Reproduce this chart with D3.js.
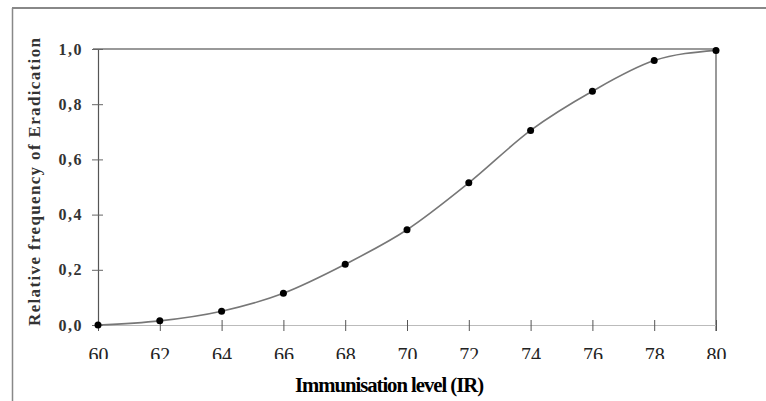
<!DOCTYPE html>
<html>
<head>
<meta charset="utf-8">
<script src="https://cdn.jsdelivr.net/npm/d3@7"></script>
<style>
  body { margin: 0; background: #fff; }
  svg { display: block; }
  text { font-family: 'Liberation Serif', serif; }
</style>
</head>
<body>
<div id="chart"></div>
<script>
// values
const levels = [60, 62, 64, 66, 68, 70, 72, 74, 76, 78, 80];
const freq = [0.0, 0.015, 0.05, 0.115, 0.22, 0.345, 0.515, 0.705, 0.847, 0.958, 0.995];
const xTicks = [60, 62, 64, 66, 68, 70, 72, 74, 76, 78, 80];
const yTicks = [0, 0.2, 0.4, 0.6, 0.8, 1.0];

const W = 766, H = 401;
const svg = d3.select('#chart').append('svg')
  .attr('width', W).attr('height', H);

// the x tick labels are cut off at the bottom in the original scan
// (clip rect is in each tick's own coordinates)
svg.append('defs').append('clipPath').attr('id', 'xlabClip')
  .append('rect').attr('x', -40).attr('y', -20).attr('width', 80).attr('height', 54);

// outer frame (top + left only visible)
svg.append('line').attr('x1', 12).attr('x2', W).attr('y1', 8).attr('y2', 8)
  .attr('stroke', '#888').attr('stroke-width', 2);
svg.append('line').attr('x1', 12.5).attr('x2', 12.5).attr('y1', 8).attr('y2', H)
  .attr('stroke', '#888').attr('stroke-width', 1.5);

const x = d3.scaleLinear().domain([60, 80]).range([98, 716]);
const y = d3.scaleLinear().domain([0, 1]).range([325, 49]);

// plot box top and right
svg.append('line').attr('x1', 93).attr('x2', x(80)).attr('y1', y(1)).attr('y2', y(1))
  .attr('stroke', '#777').attr('stroke-width', 1.6);
svg.append('line').attr('x1', x(80)).attr('x2', x(80)).attr('y1', y(1)).attr('y2', y(0) + 6)
  .attr('stroke', '#555').attr('stroke-width', 1.2);

// x axis
const xAxis = svg.append('g').attr('transform', `translate(0,${y(0)})`)
  .call(d3.axisBottom(x).tickValues(xTicks).tickSize(0).tickPadding(0));
xAxis.attr('font-family', null);
xAxis.select('.domain').attr('stroke', '#bbb').attr('stroke-width', 1);
xAxis.selectAll('.tick').append('line')
  .attr('y1', -5).attr('y2', 6).attr('stroke', '#555');
xAxis.selectAll('.tick text')
  .attr('y', 37).attr('dy', 0)
  .attr('clip-path', 'url(#xlabClip)')
  .attr('font-size', 20).attr('fill', '#222');

// y axis
const yAxis = svg.append('g').attr('transform', `translate(${x(60)},0)`)
  .call(d3.axisLeft(y).tickValues(yTicks).tickSize(0).tickFormat(d => d3.format('.1f')(d).replace('.', ',')));
yAxis.attr('font-family', null);
yAxis.select('.domain').attr('stroke', '#555').attr('stroke-width', 1.2);
yAxis.selectAll('.tick').append('line')
  .attr('x1', -6).attr('x2', 5).attr('stroke', '#666');
yAxis.selectAll('.tick text')
  .attr('x', -15).attr('dy', '0.32em')
  .attr('font-size', 16).attr('font-weight', 'bold').attr('letter-spacing', 1.5)
  .attr('fill', '#333');

// curve
const pts = levels.map((l, i) => [l, freq[i]]);
svg.append('path').datum(pts)
  .attr('fill', 'none').attr('stroke', '#777').attr('stroke-width', 1.6)
  .attr('d', d3.line().x(d => x(d[0])).y(d => y(d[1])).curve(d3.curveMonotoneX));

svg.append('g').selectAll('circle').data(pts).join('circle')
  .attr('cx', d => x(d[0])).attr('cy', d => y(d[1])).attr('r', 3.5)
  .attr('fill', '#000');

// titles
svg.append('text')
  .attr('transform', 'translate(40,182) rotate(-90)')
  .attr('text-anchor', 'middle')
  .attr('font-size', 17).attr('font-weight', 'bold').attr('fill', '#333')
  .attr('textLength', 288).attr('lengthAdjust', 'spacing')
  .text('Relative frequency of Eradication');

svg.append('text')
  .attr('x', 295).attr('y', 392)
  .attr('font-size', 20).attr('font-weight', 'bold')
  .attr('fill', '#000').attr('letter-spacing', -1)
  .attr('textLength', 188).attr('lengthAdjust', 'spacingAndGlyphs')
  .text('Immunisation level (IR)');
</script>
</body>
</html>
